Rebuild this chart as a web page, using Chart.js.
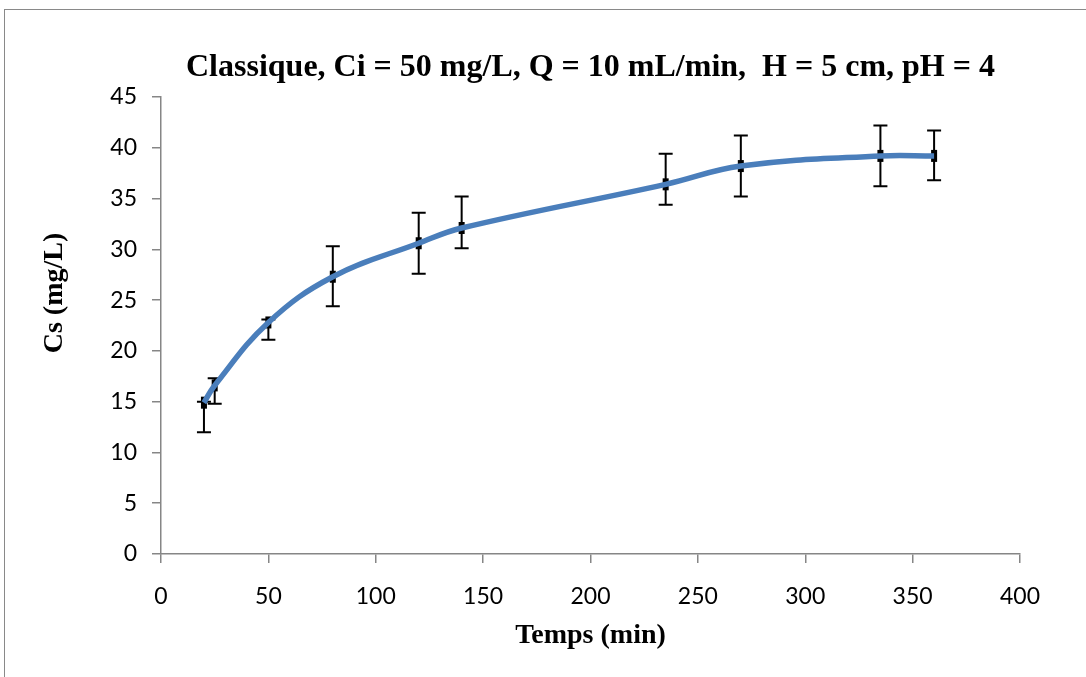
<!DOCTYPE html>
<html><head><meta charset="utf-8">
<script src="https://cdn.jsdelivr.net/npm/chart.js@4.4.0/dist/chart.umd.min.js"></script>
<style>
html,body{margin:0;padding:0;background:#fff;}
#wrap{position:relative;width:1086px;height:677px;overflow:hidden;background:#fff;}
#frame{position:absolute;left:4px;top:9px;width:1200px;height:1000px;border:1px solid #898989;}
canvas{position:absolute;left:0;top:0;}
</style></head><body>
<div id="wrap"><div id="frame"></div><canvas id="c" width="1086" height="677"></canvas></div>
<script>
// Data
const times = [20, 25, 50, 80, 120, 140, 235, 270, 335, 360];          // Temps (min)
const cs = [14.9, 16.6, 22.8, 27.3, 30.6, 32.1, 36.4, 38.2, 39.2, 39.2]; // Cs (mg/L)
const errPlus = [0.1, 0.7, 0.3, 3.0, 3.0, 3.1, 3.0, 3.0, 3.0, 2.5];
const errMinus = [2.9, 1.8, 1.7, 2.9, 3.0, 2.0, 2.0, 3.0, 3.0, 2.4];
const titleText = 'Classique, Ci = 50 mg/L, Q = 10 mL/min,  H = 5 cm, pH = 4';
const xTitle = 'Temps (min)';
const yTitle = 'Cs (mg/L)';
const xRange = [0, 400, 50];
const yRange = [0, 45, 5];

const errorBars = {
  id: 'errorBars',
  beforeDatasetsDraw(chart) {
    const {ctx, scales: {x, y}} = chart;
    ctx.save();
    ctx.strokeStyle = '#000';
    ctx.fillStyle = '#000';
    ctx.lineWidth = 2;
    times.forEach((t, i) => {
      const px = x.getPixelForValue(t);
      const py = y.getPixelForValue(cs[i]);
      const top = y.getPixelForValue(cs[i] + errPlus[i]);
      const bot = y.getPixelForValue(cs[i] - errMinus[i]);
      ctx.beginPath();
      ctx.moveTo(px, top); ctx.lineTo(px, bot);
      ctx.moveTo(px - 7, top); ctx.lineTo(px + 7, top);
      ctx.moveTo(px - 7, bot); ctx.lineTo(px + 7, bot);
      ctx.stroke();
      ctx.fillRect(px - 3, py - 6, 6, 12);
    });
    ctx.restore();
  },
  afterDraw(chart) {
    const {ctx} = chart;
    ctx.save();
    ctx.translate(55, 293);
    ctx.rotate(-Math.PI / 2);
    ctx.font = 'bold 28px "Liberation Serif"';
    ctx.fillStyle = '#000';
    ctx.textAlign = 'center';
    ctx.textBaseline = 'middle';
    ctx.fillText(yTitle, 0, 0);
    ctx.restore();
  }
};

const tickFont = {family: 'Lato', size: 23};
new Chart(document.getElementById('c'), {
  type: 'scatter',
  data: {datasets: [{
    data: times.map((t, i) => ({x: t, y: cs[i]})),
    showLine: true,
    borderColor: '#4A7EBB',
    borderWidth: 5.5,
    tension: 0.4,
    pointRadius: 0,
    fill: false
  }]},
  options: {
    responsive: false,
    animation: false,
    devicePixelRatio: 1,
    layout: {padding: {left: 0, right: 66, top: 0, bottom: 0}},
    plugins: {
      legend: {display: false},
      tooltip: {enabled: false},
      title: {
        display: true, text: titleText, fullSize: false, color: '#000',
        font: {family: 'Liberation Serif', size: 32, weight: 'bold', lineHeight: 1.2},
        padding: {top: 49, bottom: 9.6}
      }
    },
    scales: {
      x: {
        type: 'linear', min: xRange[0], max: xRange[1],
        ticks: {stepSize: xRange[2], color: '#000', font: tickFont, padding: 20, maxRotation: 0},
        grid: {drawOnChartArea: false, tickLength: 9, color: '#868686', lineWidth: 1.5},
        border: {color: '#868686', width: 1.5},
        title: {display: true, text: xTitle, color: '#000',
          font: {family: 'Liberation Serif', size: 28, weight: 'bold', lineHeight: 1.2},
          padding: {top: 0, bottom: 24}},
        afterFit(s) { s.height = 123; }
      },
      y: {
        type: 'linear', min: yRange[0], max: yRange[1],
        ticks: {stepSize: yRange[2], color: '#000', font: tickFont, padding: 15},
        grid: {drawOnChartArea: false, tickLength: 9, color: '#868686', lineWidth: 1.5},
        border: {color: '#868686', width: 1.5},
        afterFit(s) { s.width = 161; }
      }
    }
  },
  plugins: [errorBars]
});
</script>
</body></html>
